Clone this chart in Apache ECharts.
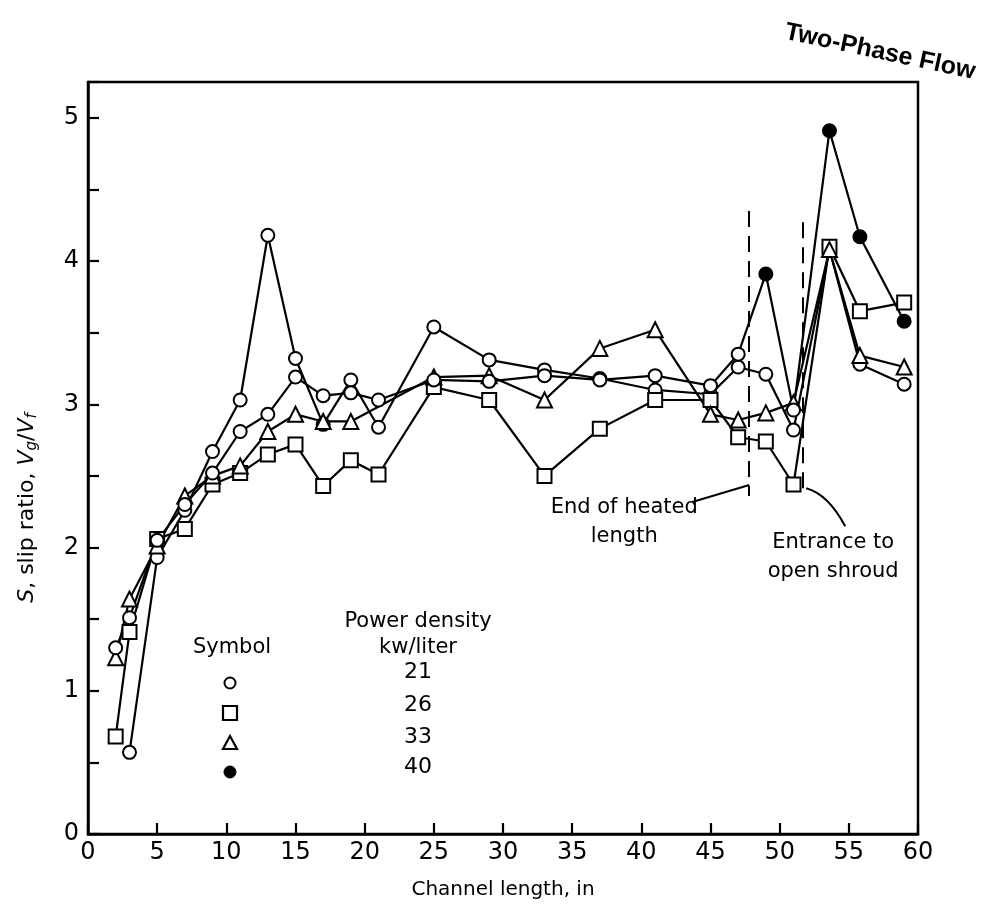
<!DOCTYPE html>
<html><head><meta charset="utf-8">
<script src="https://cdn.jsdelivr.net/npm/echarts@6/dist/echarts.min.js"></script>
<style>html,body{margin:0;padding:0;background:#fff}#c{width:991px;height:908px}</style>
</head><body><div id="c"></div>
<script>
// ---- data ----
const xTickLabels = ['0','5','10','15','20','25','30','35','40','45','50','55','60'];
const yTickLabels = ['0','1','2','3','4','5'];

// 21 kw/liter (open circles)
const x21 = [3,5,7,9,11,13,15,17,19,21,25,29,33,37,41,45,47,49,51,53.6,55.8,59];
const y21 = [0.57,1.93,2.26,2.67,3.03,4.18,3.32,2.86,3.17,2.84,3.54,3.31,3.24,3.18,3.10,3.07,3.26,3.21,2.82,4.08,3.28,3.14];
// 26 kw/liter (open squares)
const x26 = [2,3,5,7,9,11,13,15,17,19,21,25,29,33,37,41,45,47,49,51,53.6,55.8,59];
const y26 = [0.68,1.41,2.06,2.13,2.44,2.52,2.65,2.72,2.43,2.61,2.51,3.12,3.03,2.50,2.83,3.03,3.03,2.77,2.74,2.44,4.10,3.65,3.71];
// 33 kw/liter (open triangles)
const x33 = [2,3,5,7,9,11,13,15,17,19,25,29,33,37,41,45,47,49,51,53.6,55.8,59];
const y33 = [1.23,1.64,2.01,2.36,2.50,2.57,2.81,2.93,2.88,2.88,3.19,3.20,3.03,3.39,3.52,2.93,2.89,2.94,3.01,4.08,3.34,3.26];
// 40 kw/liter (filled circles where drawn filled)
const x40 = [2,3,5,7,9,11,13,15,17,19,21,25,29,33,37,41,45,47,49,51,53.6,55.8,59];
const y40 = [1.30,1.51,2.05,2.30,2.52,2.81,2.93,3.19,3.06,3.08,3.03,3.17,3.16,3.20,3.17,3.20,3.13,3.35,3.91,2.96,4.91,4.17,3.58];
const filled40 = [49,53.6,55.8,59];

// annotation lines (x position, y from, y to)
const heatedEnd = [47.8, 4.35, 2.36];
const shroudEntrance = [51.7, 4.27, 2.40];

const legendSymbols = ['circle','rect','triangle','dot'];
const legendValues = ['21','26','33','40'];

// ---- chart ----
const FONT = 'DejaVu Sans';
const chart = echarts.init(document.getElementById('c'));
const openItem = {color:'#fff', borderColor:'#000', borderWidth:2};
const lineSt = {color:'#000', width:2.2};

function pairs(xs, ys){ return xs.map((x,i)=>[x, ys[i]]); }
function mk(name, xs, ys, symbol, size, extra){
  return Object.assign({
    name, type:'line', data: pairs(xs, ys), symbol, symbolSize:size,
    showAllSymbol:true, itemStyle:openItem, lineStyle:lineSt,
    emphasis:{disabled:true}, z:3
  }, extra||{});
}
const data40 = x40.map((x,i)=> filled40.includes(x)
  ? {value:[x,y40[i]], itemStyle:{color:'#000', borderColor:'#000'}}
  : {value:[x,y40[i]]});

const option = {
  animation:false,
  backgroundColor:'#fff',
  grid:{left:88, right:73, top:82, bottom:74, show:true, borderColor:'#000', borderWidth:2.5},
  xAxis:{
    type:'value', min:0, max:60, interval:5,
    axisLine:{show:true, lineStyle:{color:'#000', width:2.5}},
    axisTick:{show:true, inside:true, length:11, lineStyle:{color:'#000', width:2.2}},
    axisLabel:{color:'#000', fontFamily:FONT, fontSize:24, margin:7,
      formatter:(v)=> xTickLabels[Math.round(v/5)] ?? ''},
    splitLine:{show:false},
    name:'Channel length, in', nameLocation:'middle', nameGap:46,
    nameTextStyle:{color:'#000', fontFamily:FONT, fontSize:20}
  },
  yAxis:{
    type:'value', min:0, max:5.25, interval:0.5,
    axisLine:{show:true, lineStyle:{color:'#000', width:2.5}},
    axisTick:{show:true, inside:true, length:11, lineStyle:{color:'#000', width:2.2}},
    axisLabel:{color:'#000', fontFamily:FONT, fontSize:24, margin:9,
      formatter:(v)=> (Math.abs(v-Math.round(v))<1e-6 && v<=5) ? yTickLabels[Math.round(v)] : ''},
    splitLine:{show:false},
    name:'{i|S}, slip ratio, {i|V}{s|g}/{i|V}{s|f}', nameLocation:'middle', nameGap:48, nameRotate:90,
    nameTextStyle:{color:'#000', fontFamily:FONT, fontSize:22, padding:[0,100,0,0],
      rich:{i:{fontStyle:'italic', fontFamily:FONT, fontSize:22, color:'#000'},
            s:{fontStyle:'italic', fontFamily:FONT, fontSize:15, color:'#000', verticalAlign:'bottom', padding:[10,0,0,0]}}}
  },
  series:[
    mk('21', x21, y21, 'circle', 13),
    mk('26', x26, y26, 'rect', 14),
    mk('33', x33, y33, 'triangle', 15),
    Object.assign(mk('40', x40, y40, 'circle', 13), {data:data40,
      markLine:{silent:true, symbol:'none', label:{show:false},
        lineStyle:{color:'#000', width:2, type:[16,9]},
        data:[
          [{coord:[heatedEnd[0],heatedEnd[1]]},{coord:[heatedEnd[0],heatedEnd[2]]}],
          [{coord:[shroudEntrance[0],shroudEntrance[1]]},{coord:[shroudEntrance[0],shroudEntrance[2]]}]
        ]}})
  ]
};
chart.setOption(option);

// ---- annotations and symbol key ----
const p1 = chart.convertToPixel({gridIndex:0}, [heatedEnd[0], heatedEnd[2]]);
const p2 = chart.convertToPixel({gridIndex:0}, [shroudEntrance[0], shroudEntrance[2]]);
const tStyle = (txt, x, y, size, extra) => ({type:'text', x, y, silent:true,
  style:Object.assign({text:txt, fill:'#000', font:(size||21)+'px "'+FONT+'"', align:'center', verticalAlign:'middle'}, extra||{})});

const g = [];
g.push(tStyle('End of heated', p1[0]-125, p1[1]+12));
g.push(tStyle('length', p1[0]-125, p1[1]+41));
g.push({type:'line', silent:true, shape:{x1:p1[0]-57, y1:p1[1]+6, x2:p1[0], y2:p1[1]-11}, style:{stroke:'#000', lineWidth:2}});
g.push(tStyle('Entrance to', p2[0]+30, p2[1]+52));
g.push(tStyle('open shroud', p2[0]+30, p2[1]+81));
g.push({type:'bezierCurve', silent:true, shape:{x1:p2[0]+3, y1:p2[1]-2, cpx1:p2[0]+25, cpy1:p2[1]+4, x2:p2[0]+42, y2:p2[1]+36}, style:{stroke:'#000', lineWidth:2, fill:null}});

// symbol key block
const kx = 230, ky = 648;
g.push(tStyle('Symbol', kx+2, ky));
g.push(tStyle('Power density', 418, ky-26));
g.push(tStyle('kw/liter', 418, ky));
const rows = [683, 713, 743, 772];
const valRows = [672, 705, 737, 767];
legendSymbols.forEach((s, i) => {
  const y = rows[i];
  if (s === 'circle') g.push({type:'circle', silent:true, shape:{cx:kx, cy:y, r:5.5}, style:{fill:'#fff', stroke:'#000', lineWidth:2}});
  if (s === 'rect') g.push({type:'rect', silent:true, shape:{x:kx-7, y:y-7, width:14, height:14}, style:{fill:'#fff', stroke:'#000', lineWidth:2.2}});
  if (s === 'triangle') g.push({type:'polygon', silent:true, shape:{points:[[kx, y-7],[kx+7, y+6],[kx-7, y+6]]}, style:{fill:'#fff', stroke:'#000', lineWidth:2.2}});
  if (s === 'dot') g.push({type:'circle', silent:true, shape:{cx:kx, cy:y, r:6}, style:{fill:'#000', stroke:'#000', lineWidth:1}});
  g.push(tStyle(legendValues[i], 418, valRows[i], 22));
});

// title
g.push({type:'text', x:880, y:52, rotation:-0.21, silent:true,
  style:{text:'Two-Phase Flow', fill:'#000', font:'bold 25px "Liberation Sans"', align:'center', verticalAlign:'middle'}});

chart.setOption({graphic:g});
</script>
</body></html>
